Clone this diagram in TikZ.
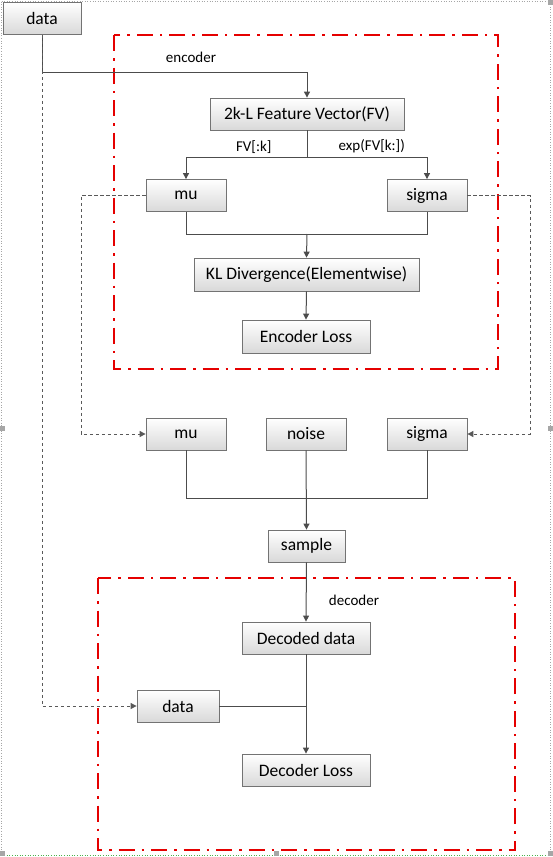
\documentclass[tikz,border=0pt]{standalone}
\usepackage{fontspec}
\setmainfont{Carlito}
\usetikzlibrary{arrows.meta}

\tikzset{
    blockbox/.style={draw=gray!90!black, line width=0.8pt, top color=white, bottom color=gray!30,
        minimum height=32pt, inner sep=2pt, font=\fontsize{17.5}{19}\selectfont},
    flow/.style={draw=black!70, line width=1pt},
    flowarrow/.style={flow, -{Triangle[length=6pt,width=6pt]}},
    copyarrow/.style={draw=gray!70!black, line width=1pt, dash pattern=on 3.5pt off 2.5pt,
        -{Triangle[length=6pt,width=6pt]}},
    stagebox/.style={draw=red!90!black, line width=2.6pt, dash pattern=on 16pt off 7pt on 2.5pt off 7pt},
    smalllabel/.style={font=\fontsize{15}{17}\selectfont},
    handle/.style={fill=gray!70, draw=none}
}

\begin{document}
\begin{tikzpicture}[x=1pt, y=-1pt]
    \useasboundingbox (0,0) rectangle (552,857);
    % selection frame
    \draw[gray!70, line width=0.6pt, dotted] (1.5,1.5) -- (550,1.5) -- (550,855);
    \draw[gray!70, line width=0.6pt, dotted] (1.5,1.5) -- (1.5,855);
    \draw[green!40!gray, line width=0.6pt, dotted] (1.5,855) -- (550,855);
    \foreach \hx/\hy in {550/2, 2/428, 550/428, 2/853, 276/853, 550/853}
        \fill[handle] (\hx-2.5,\hy-2.5) rectangle (\hx+2.5,\hy+2.5);

    % stages
    \draw[stagebox] (114,35) rectangle (498,369);
    \draw[stagebox] (98,578) rectangle (515,850);
    \node[smalllabel] (enclabel) at (191,57) {encoder};
    \node[smalllabel] (declabel) at (354,600) {decoder};

    % nodes
    \node[blockbox, minimum width=78pt] (data) at (42,18.5) {data};
    \node[blockbox, minimum width=194pt] (fv) at (307,114) {2k-L Feature Vector(FV)};
    \node[blockbox, minimum width=80pt] (mu) at (186,195.5) {mu};
    \node[blockbox, minimum width=80pt] (sigma) at (427,195.5) {sigma};
    \node[blockbox, minimum width=225pt, minimum height=33pt] (kl) at (306.5,274.5) {KL Divergence(Elementwise)};
    \node[blockbox, minimum width=128pt, minimum height=33pt] (encloss) at (306,336.5) {Encoder Loss};
    \node[blockbox, minimum width=80pt] (mutwo) at (186,434) {mu};
    \node[blockbox, minimum width=80pt] (noise) at (306,434) {noise};
    \node[blockbox, minimum width=80pt] (sigmatwo) at (427,434) {sigma};
    \node[blockbox, minimum width=77pt] (sample) at (306.5,546) {sample};
    \node[blockbox, minimum width=128pt] (decoded) at (306,638) {Decoded data};
    \node[blockbox, minimum width=82pt] (datatwo) at (178,706) {data};
    \node[blockbox, minimum width=128pt] (decloss) at (306,770) {Decoder Loss};

    % encoder flow
    \draw[flowarrow] (data.south) |- (307,72) -- (fv.north);
    \draw[flow] (fv.south) -- (307,157);
    \draw[flowarrow] (307,157) -| node[smalllabel, pos=0.22, above] {FV[:k]} (mu.north);
    \draw[flowarrow] (307,157) -| node[smalllabel, pos=0.27, above] {exp(FV[k:])} (sigma.north);
    \draw[flow] (mu.south) -- (186,234) -| (sigma.south);
    \draw[flowarrow] (307,234) -- (kl.north);
    \draw[flowarrow] (kl.south) -- (encloss.north);

    % copies of mu, sigma and data
    \draw[copyarrow] (mu.west) -| (81,300) |- (mutwo.west);
    \draw[copyarrow] (sigma.east) -| (530,300) |- (sigmatwo.east);
    \draw[copyarrow] (data.south) -- (42,706) -- (datatwo.west);

    % sampling
    \draw[flow] (mutwo.south) -- (186,498) -| (sigmatwo.south);
    \draw[flowarrow] (noise.south) -- (sample.north);

    % decoder flow
    \draw[flowarrow] (sample.south) -- (decoded.north);
    \draw[flowarrow] (decoded.south) -- (decloss.north);
    \draw[flow] (datatwo.east) -- (306,706);
\end{tikzpicture}
\end{document}
